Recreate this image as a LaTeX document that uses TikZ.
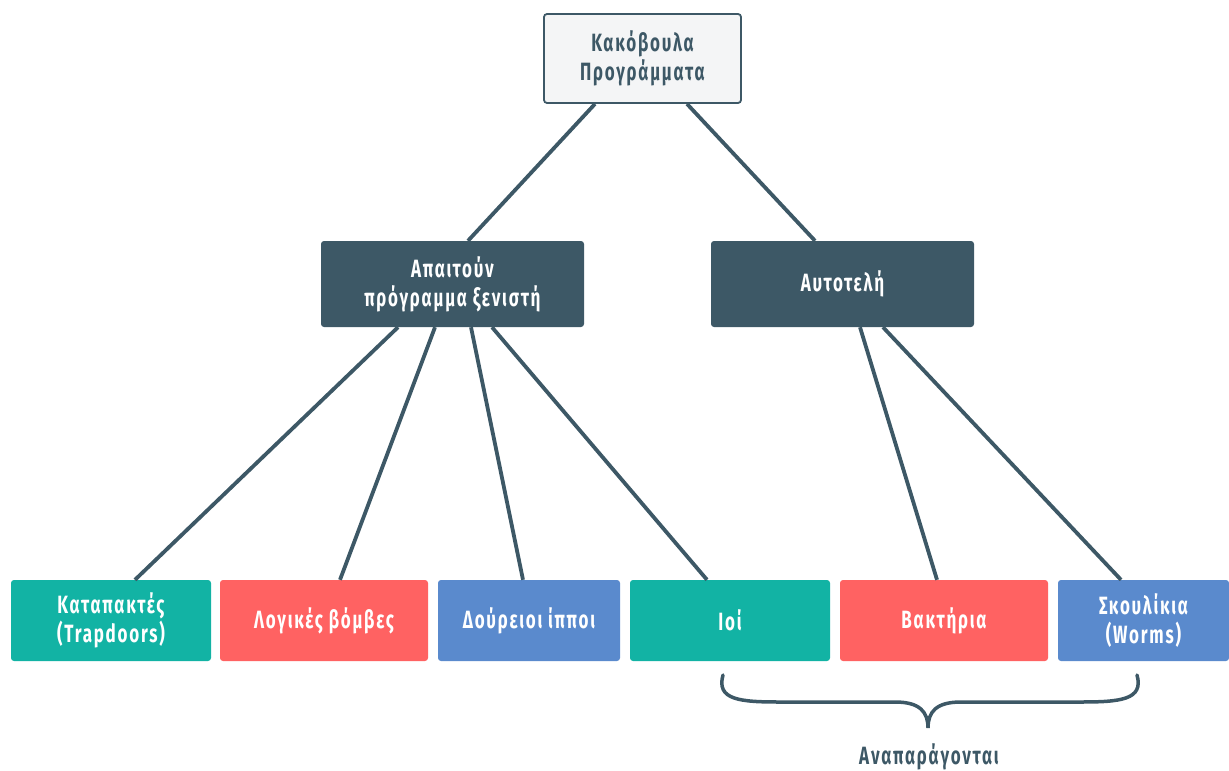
\documentclass[tikz,border=0pt]{standalone}
\usepackage{fontspec}
\setmainfont{Fira Sans}[FakeStretch=0.68,LetterSpace=7]
\definecolor{dark}{HTML}{3D5866}
\definecolor{teal2}{HTML}{12B3A4}
\definecolor{red2}{HTML}{FF6262}
\definecolor{blue2}{HTML}{5A8ACD}
\definecolor{light}{HTML}{F4F5F6}
\begin{document}
\begin{tikzpicture}[x=1pt,y=-1pt,
  box/.style={rounded corners=3pt,align=center,inner sep=0pt,text=white,
    font=\bfseries\fontsize{25}{29}\selectfont},
  link/.style={draw=dark,line width=3.8pt}]
\useasboundingbox (0,0) rectangle (1229,771);
\node[box,draw=dark,line width=1.8pt,fill=light,text=dark,minimum width=197,minimum height=89] (top) at (642.5,58.5) {Κακόβουλα\\Προγράμματα};
\node[box,fill=dark,minimum width=263,minimum height=86] (host) at (452.5,284) {Απαιτούν\\πρόγραμμα ξενιστή};
\node[box,fill=dark,minimum width=263,minimum height=86] (self) at (842.5,284) {Αυτοτελή};
\node[box,fill=teal2,minimum width=200,minimum height=81] (trap) at (111,620.5) {Καταπακτές\\(Trapdoors)};
\node[box,fill=red2,minimum width=208,minimum height=81] (logic) at (324,620.5) {Λογικές βόμβες};
\node[box,fill=blue2,minimum width=182,minimum height=81] (troj) at (529,620.5) {Δούρειοι ίπποι};
\node[box,fill=teal2,minimum width=200,minimum height=81] (virus) at (730,620.5) {Ιοί};
\node[box,fill=red2,minimum width=208,minimum height=81] (bact) at (944,620.5) {Βακτήρια};
\node[box,fill=blue2,minimum width=171,minimum height=81] (worm) at (1143.5,620.5) {Σκουλίκια\\(Worms)};
\node[text=dark,font=\bfseries\fontsize{25}{29}\selectfont] (rep) at (929,757) {Αναπαράγονται};
\path[link] ([xshift=-47.5]top.south) -- ([xshift=15.5]host.north);
\path[link] ([xshift=44.5]top.south) -- ([xshift=-27.5]self.north);
\path[link] ([xshift=-54.5]host.south) -- ([xshift=24]trap.north);
\path[link] ([xshift=-17.5]host.south) -- ([xshift=16]logic.north);
\path[link] ([xshift=18.5]host.south) -- ([xshift=-6]troj.north);
\path[link] ([xshift=39.5]host.south) -- ([xshift=-23]virus.north);
\path[link] ([xshift=17.5]self.south) -- ([xshift=-7]bact.north);
\path[link] ([xshift=40.5]self.south) -- ([xshift=-22.5]worm.north);
\draw[dark,line width=3.5pt,line cap=round]
 (723,675) .. controls (716,700) and (740,702) .. (780,702) -- (895,702)
 .. controls (920,702) and (928,712) .. (928,728)
 .. controls (928,712) and (936,702) .. (961,702) -- (1080,702)
 .. controls (1120,702) and (1144,700) .. (1137,675);
\end{tikzpicture}
\end{document}
